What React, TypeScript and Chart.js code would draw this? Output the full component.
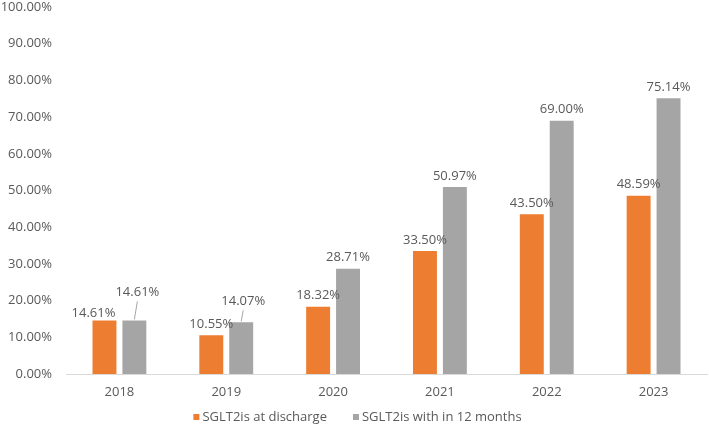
import React, { useEffect, useRef } from "react";
import { Chart, registerables } from "chart.js";

Chart.register(...registerables);

const years = ["2018", "2019", "2020", "2021", "2022", "2023"];
const atDischarge = [14.61, 10.55, 18.32, 33.5, 43.5, 48.59];
const within12Months = [14.61, 14.07, 28.71, 50.97, 69.0, 75.14];
const yTicks = [0, 10, 20, 30, 40, 50, 60, 70, 80, 90, 100];

const ORANGE = "#ED7D31";
const GREY = "#A5A5A5";
const TEXT = "#595959";
const FONT = "'Open Sans', sans-serif";

// Per-label nudges for crowded labels, keyed "datasetIndex-dataIndex"
const labelNudges: Record<string, { dx: number; dy: number; leader?: boolean }> = {
  "0-0": { dx: -11, dy: 4 },
  "1-0": { dx: 3, dy: -17, leader: true },
  "1-1": { dx: 2, dy: -10, leader: true },
};

const valueLabels = {
  id: "valueLabels",
  afterDatasetsDraw(chart: any) {
    const ctx = chart.ctx;
    ctx.save();
    ctx.font = `13px ${FONT}`;
    ctx.fillStyle = TEXT;
    ctx.textAlign = "center";
    ctx.textBaseline = "middle";
    chart.data.datasets.forEach((ds: any, di: number) => {
      const meta = chart.getDatasetMeta(di);
      meta.data.forEach((bar: any, i: number) => {
        const nudge = labelNudges[`${di}-${i}`] || { dx: 0, dy: 0 };
        const x = bar.x + nudge.dx;
        const y = bar.y - 11 + nudge.dy;
        if (nudge.leader) {
          ctx.strokeStyle = "#A6A6A6";
          ctx.lineWidth = 1;
          ctx.beginPath();
          ctx.moveTo(x, y + 9);
          ctx.lineTo(bar.x, bar.y - 1);
          ctx.stroke();
        }
        ctx.fillText(`${Number(ds.data[i]).toFixed(2)}%`, x, y);
      });
    });
    ctx.restore();
  },
};

// Bottom legend: small squares followed by the series names, centred under the chart
const bottomLegend = {
  id: "bottomLegend",
  afterDraw(chart: any) {
    const ctx = chart.ctx;
    ctx.save();
    ctx.font = `13px ${FONT}`;
    ctx.textBaseline = "middle";
    ctx.textAlign = "left";
    const box = 6;
    const gap = 3;
    const spacing = 26;
    const items = chart.data.datasets.map((ds: any) => ({
      text: ds.label,
      color: ds.backgroundColor,
      w: box + gap + ctx.measureText(ds.label).width,
    }));
    const total = items.reduce((a: number, it: any) => a + it.w, 0) + spacing * (items.length - 1);
    let x = chart.width / 2 + 3 - total / 2;
    const y = 417;
    items.forEach((it: any) => {
      ctx.fillStyle = it.color;
      ctx.fillRect(x, y - box / 2, box, box);
      ctx.fillStyle = TEXT;
      ctx.fillText(it.text, x + box + gap, y);
      x += it.w + spacing;
    });
    ctx.restore();
  },
};

export default function App() {
  const canvasRef = useRef<HTMLCanvasElement | null>(null);

  useEffect(() => {
    document.body.style.margin = "0";
    const canvas = canvasRef.current;
    if (!canvas) return;
    const chart = new Chart(canvas, {
      type: "bar",
      data: {
        labels: years,
        datasets: [
          {
            label: "SGLT2is at discharge",
            data: atDischarge,
            backgroundColor: ORANGE,
            categoryPercentage: 0.56,
            barPercentage: 0.8,
          },
          {
            label: "SGLT2is with in 12 months",
            data: within12Months,
            backgroundColor: GREY,
            categoryPercentage: 0.56,
            barPercentage: 0.8,
          },
        ],
      },
      options: {
        animation: false,
        responsive: false,
        maintainAspectRatio: false,
        layout: { padding: { top: 7, right: 2, left: 0, bottom: 25 } },
        plugins: {
          tooltip: { enabled: false },
          legend: { display: false },
        },
        scales: {
          x: {
            afterFit: (s: any) => {
              s.height = 28;
              s.paddingLeft = 0;
              s.paddingRight = 0;
            },
            grid: { display: false, drawTicks: false },
            border: { display: true, color: "#D9D9D9", width: 1 },
            ticks: { color: TEXT, font: { family: FONT, size: 13 }, padding: 10 },
          },
          y: {
            min: 0,
            max: 100,
            afterFit: (s: any) => {
              s.width = 66;
              s.paddingTop = 0;
              s.paddingBottom = 0;
            },
            afterBuildTicks: (s: any) => {
              s.ticks = yTicks.map((v) => ({ value: v }));
            },
            grid: { display: false, drawTicks: false },
            border: { display: false },
            ticks: {
              color: TEXT,
              font: { family: FONT, size: 13 },
              padding: 14,
              callback: (v: any) => `${Number(v).toFixed(2)}%`,
            },
          },
        },
      },
      plugins: [valueLabels, bottomLegend],
    });
    return () => chart.destroy();
  }, []);

  return <canvas ref={canvasRef} width={709} height={427} style={{ display: "block" }} />;
}
